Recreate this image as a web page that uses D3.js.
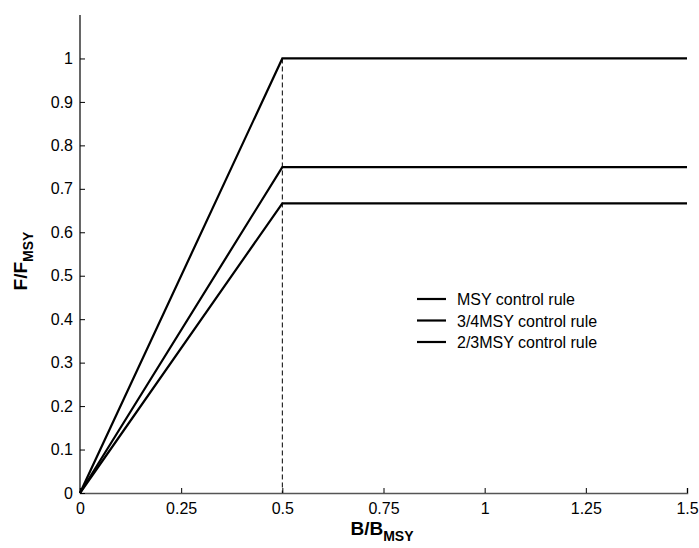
<!DOCTYPE html>
<html><head><meta charset="utf-8">
<script src="https://cdn.jsdelivr.net/npm/d3@7"></script>
<style>body{margin:0;background:#fff}svg{display:block}text{font-family:"Liberation Sans",Arial,sans-serif}</style>
</head><body>
<svg id="c" width="699" height="548"></svg>
<script>
const seriesNames = ["MSY control rule", "3/4MSY control rule", "2/3MSY control rule"];
const breakB = [0, 0.5, 1.5];
const msyF = [0, 1, 1];
const threeQuarterF = [0, 0.75, 0.75];
const twoThirdF = [0, 0.6667, 0.6667];
const xTicks = [0, 0.25, 0.5, 0.75, 1, 1.25, 1.5];
const yTicks = [0, 0.1, 0.2, 0.3, 0.4, 0.5, 0.6, 0.7, 0.8, 0.9, 1];

const svg = d3.select("#c");
const x = d3.scaleLinear().domain([0, 1.5]).range([80, 687]);
const y = d3.scaleLinear().domain([0, 1.1]).range([493, 15]);

// x axis
const xa = svg.append("g").attr("transform", "translate(0,493)")
  .call(d3.axisBottom(x).tickValues(xTicks).tickSize(-5).tickPadding(10).tickFormat(d => d3.format("")(d)));
xa.attr("font-size", null).attr("font-family", null);
xa.select(".domain").attr("stroke", "#555").attr("stroke-width", 1.5);
xa.selectAll(".tick line").attr("stroke", "#000");
xa.selectAll("text").attr("font-size", 16).attr("fill", "#000");

const ya = svg.append("g").attr("transform", "translate(80,0)")
  .call(d3.axisLeft(y).tickValues(yTicks).tickSize(-5).tickPadding(7).tickFormat(d => d3.format("")(d)));
ya.attr("font-size", null).attr("font-family", null);
ya.select(".domain").attr("stroke", "#000").attr("stroke-width", 1.2).attr("d", `M0,${y(1.1)}V${y(0)}`);
ya.selectAll("text").attr("font-size", 16).attr("fill", "#000");

// dashed line
svg.append("line").attr("x1", x(0.5)).attr("x2", x(0.5)).attr("y1", y(1)).attr("y2", y(0))
  .attr("stroke", "#000").attr("stroke-width", 1).attr("stroke-dasharray", "5,3");

const line = d3.line().x(d => x(d[0])).y(d => y(d[1]));
[msyF, threeQuarterF, twoThirdF].forEach(vals => {
  svg.append("path").datum(breakB.map((b, i) => [b, vals[i]]))
    .attr("d", line).attr("fill", "none").attr("stroke", "#000").attr("stroke-width", 2.2)
    .attr("stroke-linejoin", "miter");
});

// legend
seriesNames.forEach((n, i) => {
  const ly = 299 + i * 21.5;
  svg.append("line").attr("x1", 417).attr("x2", 446).attr("y1", ly).attr("y2", ly)
    .attr("stroke", "#000").attr("stroke-width", 2.2);
  svg.append("text").attr("x", 457).attr("y", ly + 6).attr("font-size", 16).text(n);
});

// axis labels
const xl = svg.append("text").attr("x", 382).attr("y", 535).attr("text-anchor", "middle")
  .attr("font-size", 19).attr("font-weight", "bold");
xl.append("tspan").text("B/B");
xl.append("tspan").attr("font-size", 14).attr("dy", 6).text("MSY");

const yl = svg.append("text").attr("transform", "translate(27,261) rotate(-90)").attr("text-anchor", "middle")
  .attr("font-size", 19).attr("font-weight", "bold");
yl.append("tspan").text("F/F");
yl.append("tspan").attr("font-size", 14).attr("dy", 6).text("MSY");
</script>
</body></html>
